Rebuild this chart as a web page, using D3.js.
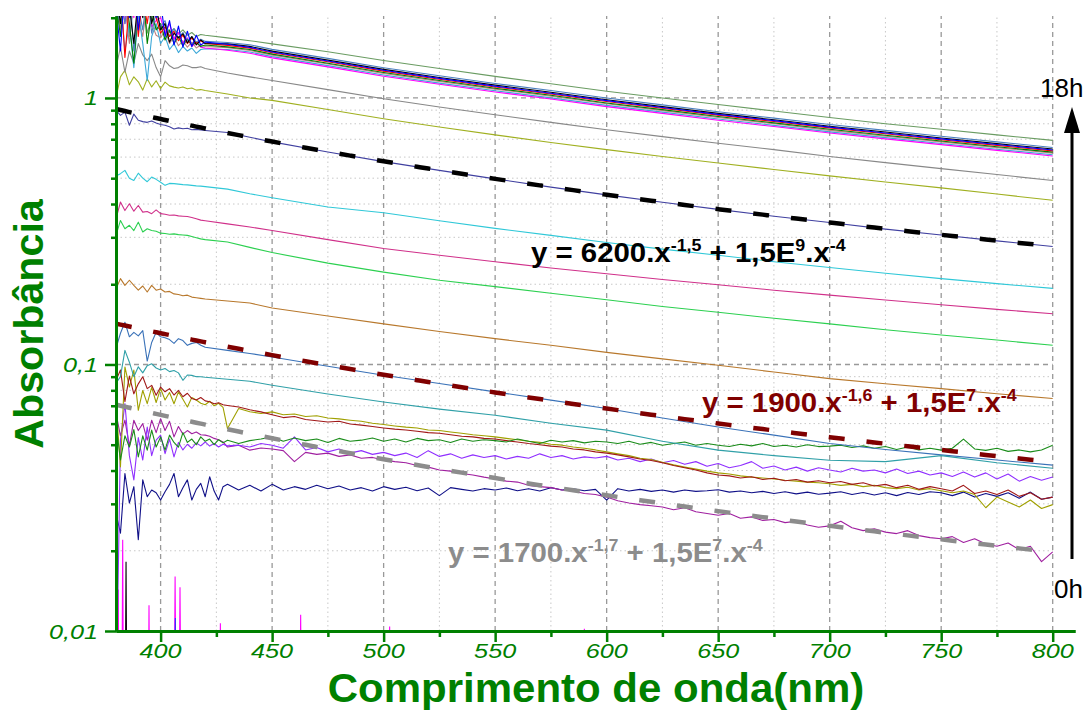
<!DOCTYPE html>
<html>
<head>
<meta charset="utf-8">
<script src="https://cdn.jsdelivr.net/npm/d3@7"></script>
<style>
  body { margin: 0; background: #fff; }
  svg { display: block; }
  text { font-family: "Liberation Sans", Arial, Helvetica, sans-serif; }
</style>
</head>
<body>
<svg id="chart" width="1090" height="727"></svg>
<script>
// ---------- wavelength grids (nm) ----------
const wlS = [380,382,384,386,388,390,392,394,396,398,400,402,404,406,408,410,412,414,416,418,420,
             430,440,450,475,500,525,550,575,600,625,650,675,700,725,750,775,800];
const wlN = [380,382,384,386,388,390,392,394,396,398,400,402,404,406,408,410,412,414,416,418,420,422,424,426,428,430,
             435,440,445,450,455,460,465,470,475,480,485,490,495,500,505,510,515,520,525,530,535,540,545,550,
             555,560,565,570,575,580,585,590,595,600,605,610,615,620,625,630,635,640,645,650,655,660,665,670,
             675,680,685,690,695,700,705,710,715,720,725,730,735,740,745,750,755,760,765,770,775,780,785,790,795,800];

// ---------- absorbance spectra on wlS ----------
const absSage   = [2.2,1.8,2.5,1.7,2.3,1.9,2.4,1.75,2.0,1.85,1.8,1.9,1.76,1.82,1.74,1.8,1.72,1.76,1.7,1.73,1.72,
                   1.68,1.64,1.596,1.49,1.382,1.29,1.205,1.13,1.06,1.0,0.945,0.893,0.845,0.80,0.763,0.727,0.693];
const absSteelA = [1.7,2.4,1.9,2.6,1.5,2.2,1.8,2.5,1.75,2.1,1.85,1.95,1.7,1.82,1.68,1.76,1.64,1.7,1.62,1.66,1.63,
                   1.615,1.584,1.521,1.408,1.299,1.211,1.133,1.066,0.999,0.942,0.888,0.840,0.795,0.756,0.718,0.684,0.652];
const absBlack  = [2.5,1.9,2.8,2.2,1.6,2.4,2.0,2.6,1.9,2.2,1.8,1.9,1.62,1.75,1.68,1.74,1.61,1.7,1.58,1.65,1.6,
                   1.595,1.561,1.499,1.387,1.280,1.193,1.117,1.051,0.984,0.928,0.875,0.828,0.783,0.745,0.708,0.674,0.643];
const absBlue   = [2.2,1.5,2.7,2.0,2.9,1.8,2.5,2.1,2.7,2.0,2.3,1.7,1.95,1.58,1.86,1.55,1.78,1.56,1.72,1.58,1.62,
                   1.59,1.548,1.488,1.376,1.27,1.184,1.108,1.042,0.977,0.921,0.868,0.822,0.777,0.739,0.702,0.669,0.638];
const absRed    = [1.9,2.6,1.42,2.3,2.8,1.7,2.4,1.9,2.5,2.0,1.75,1.85,1.7,1.78,1.64,1.72,1.6,1.68,1.6,1.64,1.6,
                   1.575,1.538,1.477,1.367,1.261,1.176,1.10,1.035,0.97,0.915,0.862,0.816,0.772,0.734,0.697,0.664,0.633];
const absGreenA = [2.3,1.7,2.5,1.9,1.35,2.2,2.6,1.6,2.1,1.8,1.9,1.65,1.8,1.6,1.7,1.57,1.66,1.58,1.62,1.56,1.58,
                   1.555,1.519,1.46,1.35,1.246,1.162,1.087,1.023,0.958,0.904,0.852,0.806,0.763,0.725,0.689,0.656,0.626];
const absRose   = [2.6,1.8,2.2,1.6,2.4,2.0,1.7,2.3,1.9,1.72,1.68,1.8,1.6,1.7,1.57,1.64,1.55,1.62,1.54,1.58,1.56,
                   1.545,1.507,1.448,1.34,1.236,1.152,1.079,1.015,0.951,0.896,0.845,0.80,0.756,0.719,0.684,0.651,0.621];
const absSky    = [1.8,2.4,1.5,1.9,1.3,2.1,1.6,1.16,1.7,1.9,1.6,1.7,1.52,1.6,1.48,1.56,1.5,1.54,1.47,1.52,1.53,
                   1.52,1.487,1.429,1.322,1.22,1.137,1.064,1.001,0.938,0.885,0.834,0.789,0.746,0.71,0.675,0.642,0.612];
const absFuchsia= [2.1,2.7,1.9,2.4,2.0,2.9,2.2,2.5,1.85,1.95,2.0,1.75,1.9,1.66,1.76,1.6,1.68,1.56,1.62,1.55,1.54,
                   1.51,1.472,1.414,1.308,1.207,1.126,1.053,0.991,0.928,0.875,0.825,0.781,0.739,0.702,0.668,0.636,0.606];
const absGrey   = [1.3,1.55,1.25,1.5,1.35,1.6,1.45,1.38,1.46,1.3,1.2,1.38,1.32,1.29,1.3,1.33,1.32,1.3,1.3,1.31,1.29,
                   1.24,1.2,1.163,1.075,0.993,0.925,0.865,0.81,0.76,0.716,0.676,0.64,0.603,0.572,0.543,0.516,0.49];
const absLime   = [1.0,1.2,1.27,1.12,1.2,1.15,1.07,1.18,1.1,1.16,1.085,1.146,1.11,1.098,1.09,1.1,1.082,1.09,1.07,1.075,1.067,
                   1.035,1.0,0.979,0.905,0.836,0.778,0.727,0.681,0.64,0.603,0.57,0.539,0.51,0.484,0.46,0.436,0.413];
const absSlate  = [0.9,0.86,0.885,0.79,0.87,0.825,0.815,0.81,0.82,0.805,0.795,0.79,0.78,0.765,0.772,0.766,0.77,0.76,0.762,0.758,0.755,
                   0.742,0.712,0.684,0.627,0.577,0.535,0.497,0.463,0.433,0.406,0.382,0.360,0.341,0.322,0.306,0.291,0.277];
const absCyan   = [0.51,0.52,0.535,0.5,0.49,0.522,0.5,0.485,0.505,0.495,0.483,0.47,0.478,0.477,0.475,0.473,0.472,0.47,0.468,0.467,0.465,
                   0.455,0.437,0.422,0.39,0.371,0.346,0.324,0.305,0.287,0.271,0.257,0.243,0.231,0.22,0.21,0.201,0.193];
const absPink   = [0.352,0.407,0.378,0.401,0.376,0.395,0.373,0.375,0.368,0.38,0.368,0.366,0.363,0.364,0.361,0.36,0.359,0.356,0.352,0.348,0.346,
                   0.337,0.328,0.318,0.294,0.2725,0.257,0.243,0.230,0.219,0.2085,0.199,0.19,0.182,0.1745,0.1675,0.161,0.155];
const absSpring = [0.305,0.347,0.323,0.333,0.318,0.342,0.314,0.323,0.318,0.316,0.311,0.31,0.308,0.309,0.307,0.306,0.305,0.302,0.299,0.296,0.294,
                   0.288,0.275,0.263,0.24,0.222,0.207,0.196,0.185,0.175,0.165,0.157,0.149,0.142,0.135,0.129,0.1235,0.118];
const absBrown  = [0.192,0.21,0.198,0.207,0.198,0.19,0.197,0.187,0.198,0.19,0.192,0.187,0.188,0.184,0.183,0.181,0.182,0.179,0.178,0.177,0.176,
                   0.173,0.17,0.163,0.152,0.142,0.133,0.125,0.118,0.111,0.105,0.0993,0.0937,0.0885,0.0847,0.0812,0.0777,0.0745];
const absSteelB = [0.115,0.131,0.144,0.127,0.132,0.128,0.134,0.103,0.121,0.132,0.127,0.126,0.124,0.12,0.125,0.123,0.118,0.12,0.121,0.118,0.116,
                   0.113,0.11,0.1067,0.0985,0.0911,0.0848,0.0789,0.0735,0.0684,0.063,0.0583,0.0543,0.0505,0.048,0.0458,0.0438,0.0419];
const absTeal   = [0.085,0.09,0.113,0.102,0.09,0.098,0.093,0.099,0.1006,0.097,0.0953,0.0966,0.094,0.095,0.093,0.0872,0.0913,0.091,0.09,0.0899,0.0895,
                   0.088,0.0865,0.0836,0.0775,0.0723,0.068,0.0645,0.0602,0.0567,0.0515,0.0477,0.0455,0.0437,0.0432,0.0455,0.0428,0.0408];

// ---------- absorbance spectra on wlN ----------
const absForest = [0.06,0.0438,0.054,0.049,0.057,0.045,0.054,0.0477,0.0567,0.049,0.0535,0.0477,0.0543,0.051,0.049,0.0555,0.051,0.0525,0.05,0.0535,0.0515,0.0525,0.05,0.0522,0.0508,0.052,
  0.0505,0.0518,0.0525,0.0535,0.0515,0.053,0.0518,0.0525,0.051,0.0528,0.0515,0.052,0.053,0.0515,0.0525,0.0512,0.0528,0.0518,0.0522,0.051,0.0525,0.0515,0.0522,0.0518,
  0.0512,0.0525,0.0515,0.0505,0.052,0.0512,0.0518,0.0508,0.0515,0.0512,0.0505,0.0515,0.0502,0.051,0.0498,0.0505,0.0512,0.0498,0.0505,0.0498,0.0492,0.0502,0.0495,0.0505,
  0.0492,0.0498,0.049,0.05,0.0492,0.0494,0.0498,0.0488,0.0495,0.0485,0.0492,0.048,0.049,0.0478,0.0485,0.0477,0.0485,0.0525,0.0482,0.0476,0.0485,0.0472,0.0478,0.047,0.0478,0.0498];
const absOlive = [0.0713,0.0413,0.0979,0.0823,0.0953,0.0673,0.0799,0.0713,0.082,0.072,0.0812,0.0736,0.0785,0.0712,0.0789,0.074,0.0693,0.0752,0.0736,0.0715,0.0706,0.0728,0.07,0.0715,0.069,0.0575,
  0.0684,0.0665,0.0655,0.0664,0.0648,0.0652,0.0638,0.0642,0.063,0.0625,0.0618,0.0612,0.0602,0.0595,0.0588,0.0582,0.0578,0.0568,0.0565,0.0558,0.0552,0.0545,0.054,0.0535,
  0.0528,0.0522,0.0515,0.051,0.0502,0.0498,0.049,0.0485,0.0478,0.047,0.0462,0.0455,0.0445,0.044,0.043,0.042,0.0412,0.0405,0.0398,0.0392,0.0388,0.0382,0.0378,0.0375,
  0.0372,0.0368,0.0365,0.0362,0.036,0.0357,0.0352,0.0355,0.0348,0.0352,0.0345,0.0342,0.0346,0.0338,0.0342,0.0336,0.033,0.0335,0.0325,0.029,0.0318,0.0305,0.0292,0.031,0.0288,0.0298];
const absMaroon = [0.0872,0.0953,0.0725,0.0905,0.0776,0.0846,0.0899,0.0812,0.0835,0.0767,0.0823,0.079,0.0812,0.0768,0.0799,0.0757,0.078,0.0745,0.0736,0.0752,0.073,0.0725,0.0712,0.0718,0.0706,0.0702,
  0.0693,0.0676,0.0664,0.0648,0.0632,0.0638,0.0622,0.0615,0.0608,0.0612,0.0598,0.0592,0.0585,0.0578,0.0572,0.0568,0.0562,0.0555,0.0552,0.0545,0.0538,0.0535,0.0528,0.0525,
  0.0518,0.0512,0.0505,0.05,0.0494,0.049,0.0482,0.0478,0.047,0.0465,0.0458,0.045,0.0442,0.0436,0.0428,0.0418,0.041,0.0402,0.0392,0.0385,0.0382,0.0375,0.0379,0.037,
  0.0374,0.0366,0.037,0.0362,0.0366,0.036,0.0364,0.0355,0.036,0.035,0.0355,0.0345,0.0352,0.034,0.0348,0.0342,0.0335,0.0352,0.0328,0.0335,0.0325,0.0338,0.032,0.033,0.0312,0.0318];
const absViolet = [0.005,0.052,0.0713,0.0455,0.0369,0.0532,0.0438,0.0582,0.0455,0.052,0.0543,0.0463,0.0525,0.045,0.051,0.0478,0.0502,0.0485,0.0508,0.0495,0.0512,0.0494,0.0505,0.049,0.0502,0.0495,
  0.0498,0.049,0.0505,0.0498,0.0485,0.0535,0.0478,0.0488,0.047,0.0482,0.0465,0.0475,0.046,0.0468,0.0455,0.0465,0.0448,0.0475,0.0452,0.0462,0.0445,0.0458,0.0448,0.0455,
  0.0442,0.0452,0.0445,0.0462,0.0448,0.0455,0.0442,0.045,0.0446,0.0452,0.0438,0.0445,0.0432,0.0442,0.0428,0.0436,0.0422,0.0432,0.0415,0.0425,0.041,0.0418,0.0432,0.0408,
  0.0416,0.0402,0.0412,0.0398,0.041,0.0402,0.0395,0.0408,0.0398,0.0402,0.0392,0.0405,0.039,0.0398,0.0385,0.0392,0.038,0.0395,0.0378,0.0392,0.0372,0.0388,0.0365,0.038,0.0368,0.0378];
const absPurple = [0.0655,0.054,0.0618,0.0495,0.0618,0.0565,0.06,0.052,0.0618,0.0555,0.0626,0.0565,0.0612,0.0535,0.0585,0.0548,0.0565,0.055,0.0558,0.0545,0.0543,0.0538,0.0528,0.0522,0.0512,0.049,
  0.0498,0.0477,0.0486,0.0482,0.0475,0.0432,0.0468,0.046,0.0465,0.0452,0.0458,0.0445,0.0448,0.0438,0.0432,0.0428,0.0418,0.0412,0.0402,0.0398,0.039,0.0385,0.0378,0.0372,
  0.0365,0.0362,0.0352,0.0348,0.0345,0.0338,0.0335,0.0328,0.0325,0.0318,0.0308,0.0302,0.0298,0.0295,0.0292,0.0285,0.029,0.028,0.0276,0.0272,0.0276,0.0265,0.0268,0.026,
  0.0262,0.0255,0.0258,0.025,0.0245,0.0248,0.0258,0.0244,0.0238,0.0242,0.0235,0.0232,0.0238,0.0228,0.0224,0.0222,0.0226,0.0215,0.0222,0.0212,0.0208,0.0214,0.0202,0.0208,0.0182,0.0198];
const absNavy = [0.0276,0.0233,0.039,0.0302,0.0348,0.022,0.0369,0.0319,0.0338,0.033,0.031,0.0333,0.0355,0.039,0.0319,0.0345,0.0369,0.031,0.034,0.0358,0.0319,0.0379,0.0335,0.031,0.0348,0.0355,
  0.0338,0.0352,0.0335,0.0355,0.0338,0.0348,0.034,0.0352,0.0342,0.035,0.0338,0.0345,0.0335,0.0348,0.034,0.0346,0.0336,0.0344,0.0322,0.0345,0.034,0.0335,0.0342,0.0338,
  0.0344,0.0336,0.0342,0.0335,0.0345,0.0338,0.0342,0.0336,0.034,0.031,0.0342,0.0335,0.034,0.0334,0.0338,0.0332,0.0338,0.0334,0.0336,0.0339,0.0332,0.0335,0.033,0.0334,
  0.0328,0.0333,0.0327,0.0332,0.0326,0.0329,0.0333,0.0325,0.0331,0.0324,0.033,0.0322,0.0331,0.0325,0.0333,0.033,0.0322,0.0332,0.0318,0.0328,0.032,0.033,0.0315,0.0332,0.0312,0.0318];

// ---------- near-zero spectra: only their spikes rise above 0,01 ----------
const zeroMagNm  = [380,380.6,381,381.4,382.6,383,383.4,384.2,384.6,385,394.4,394.8,395.2,406,406.5,407,408.2,408.7,409.2,
                    426.4,426.8,427.2,462.4,462.8,463.2,502.3,502.7,503.1,589.6,590,590.4,800];
const zeroMagAbs = [0.004,0.004,0.0143,0.004,0.004,0.022,0.004,0.004,0.011,0.004,0.004,0.0125,0.004,0.004,0.016,0.004,0.004,0.0146,0.004,
                    0.004,0.0107,0.004,0.004,0.0115,0.004,0.004,0.0104,0.004,0.004,0.0102,0.004,0.004];
const zeroBlkNm  = [384.1,384.5,384.9];
const zeroBlkAbs = [0.004,0.0182,0.004];
const zeroBluNm  = [406.2,406.6,407];
const zeroBluAbs = [0.004,0.0112,0.004];

// ---------- fitted curves: y = a.x^p + c.x^-4 ----------
const fitA = [6200, 1900, 1700];
const fitP = [-1.5, -1.6, -1.7];
const fitC = [1.5e9, 1.5e7, 1.5e7];
const fitColors = ["#000000", "#800000", "#8c8c8c"];

// ---------- ticks ----------
const xMajor = [400,450,500,550,600,650,700,750,800];
const xMinor = [425,475,525,575,625,675,725,775];
const yMajor = [0.01,0.1,1];
const yMinor = [0.02,0.03,0.04,0.05,0.06,0.07,0.08,0.09,0.2,0.3,0.4,0.5,0.6,0.7,0.8,0.9,2];

const seriesS = [
  {v: absLime, c: "#a0b020"}, {v: absGrey, c: "#888888"}, {v: absSage, c: "#6a9c62"},
  {v: absRose, c: "#c08080"}, {v: absSky, c: "#3ca8d8"}, {v: absFuchsia, c: "#ff00ff"},
  {v: absGreenA, c: "#008000"}, {v: absSteelA, c: "#4a7fbf"}, {v: absRed, c: "#ff0000"},
  {v: absBlack, c: "#000000"}, {v: absBlue, c: "#0000ff"},
  {v: absSlate, c: "#4040a0"}, {v: absCyan, c: "#30c8d8"}, {v: absPink, c: "#d0308a"},
  {v: absSpring, c: "#2cd050"}, {v: absBrown, c: "#b8782c"}, {v: absSteelB, c: "#3a72b8"},
  {v: absTeal, c: "#30a0a8"}
];
const seriesN = [
  {v: absNavy, c: "#101088"}, {v: absPurple, c: "#a020a0"}, {v: absViolet, c: "#9030ff"},
  {v: absOlive, c: "#a0a000"}, {v: absMaroon, c: "#a01818"}, {v: absForest, c: "#1a8c1a"}
];

// ---------- scales ----------
const W = 1090, H = 727;
const x = d3.scaleLinear().domain([380, 810]).range([116, 1075]);
const y = d3.scaleLog().domain([0.01, 2.03]).range([631, 16]);
const green = "#008000";

const svg = d3.select("#chart");
svg.append("rect").attr("width", W).attr("height", H).attr("fill", "#fff");

svg.append("defs").append("clipPath").attr("id", "plotClip")
  .append("rect").attr("x", x(380)).attr("y", y(2.03))
  .attr("width", x(810) - x(380)).attr("height", y(0.01) - y(2.03));

// ---------- grid ----------
const grid = svg.append("g");
grid.selectAll(".vmin").data(xMinor).join("line")
  .attr("x1", d => x(d)).attr("x2", d => x(d)).attr("y1", y(0.01)).attr("y2", y(2.03))
  .attr("stroke", "#c8c8c8").attr("stroke-width", 1).attr("stroke-dasharray", "1.5,3");
grid.selectAll(".hmin").data(yMinor.filter(v => v < 2)).join("line")
  .attr("x1", x(380)).attr("x2", x(800)).attr("y1", d => y(d)).attr("y2", d => y(d))
  .attr("stroke", "#c8c8c8").attr("stroke-width", 1).attr("stroke-dasharray", "1.5,3");
grid.selectAll(".vmaj").data(xMajor).join("line")
  .attr("x1", d => x(d)).attr("x2", d => x(d)).attr("y1", y(0.01)).attr("y2", y(2.03))
  .attr("stroke", "#999").attr("stroke-width", 1.3).attr("stroke-dasharray", "5,4");
grid.selectAll(".hmaj").data([0.1, 1]).join("line")
  .attr("x1", x(380)).attr("x2", x(800)).attr("y1", d => y(d)).attr("y2", d => y(d))
  .attr("stroke", "#999").attr("stroke-width", 1.3).attr("stroke-dasharray", "5,4");

// ---------- spectra ----------
const line = d3.line().x(d => x(d[0])).y(d => y(d[1]));
const plot = svg.append("g").attr("clip-path", "url(#plotClip)");
const zip = (nm, v) => nm.slice(0, Math.min(nm.length, v.length)).map((n, i) => [n, v[i]]);

[[zeroMagNm, zeroMagAbs, "#ff00ff"], [zeroBlkNm, zeroBlkAbs, "#000000"], [zeroBluNm, zeroBluAbs, "#3030ff"]]
  .forEach(([nm, v, c]) => plot.append("path").attr("d", line(zip(nm, v)))
    .attr("fill", "none").attr("stroke", c).attr("stroke-width", 1.1));

seriesN.forEach(s => plot.append("path").attr("d", line(zip(wlN, s.v)))
  .attr("fill", "none").attr("stroke", s.c).attr("stroke-width", 1.1).attr("stroke-linejoin", "round"));
seriesS.forEach(s => plot.append("path").attr("d", line(zip(wlS, s.v)))
  .attr("fill", "none").attr("stroke", s.c).attr("stroke-width", 1.1).attr("stroke-linejoin", "round"));

// fitted curves, evaluated from the stated coefficients
fitA.forEach((a, i) => {
  const pts = wlN.map(n => [n, a * Math.pow(n, fitP[i]) + fitC[i] * Math.pow(n, -4)]);
  plot.append("path").attr("d", d3.line().x(d => x(d[0])).y(d => y(d[1])).curve(d3.curveMonotoneX)(pts))
    .attr("fill", "none").attr("stroke", fitColors[i]).attr("stroke-width", 4.5)
    .attr("stroke-dasharray", "16,22");
});

// ---------- axes ----------
function styleAxis(g, w) {
  g.selectAll("path.domain").attr("stroke", green).attr("stroke-width", w);
  g.selectAll(".tick line").attr("stroke", green).attr("stroke-width", 2.5);
  g.selectAll(".tick text").remove();
}
svg.append("g").attr("transform", `translate(${x(380)},0)`)
  .call(d3.axisLeft(y).tickValues(yMinor).tickSize(5).tickSizeOuter(0).tickFormat(""))
  .call(g => styleAxis(g, 3));
svg.append("g").attr("transform", `translate(${x(380)},0)`)
  .call(d3.axisLeft(y).tickValues(yMajor).tickSize(11).tickSizeOuter(0).tickFormat(""))
  .call(g => styleAxis(g, 3));
svg.append("g").attr("transform", `translate(0,${y(0.01)})`)
  .call(d3.axisBottom(x).tickValues(xMinor).tickSize(6).tickSizeOuter(0).tickFormat(""))
  .call(g => styleAxis(g, 3));
svg.append("g").attr("transform", `translate(0,${y(0.01)})`)
  .call(d3.axisBottom(x).tickValues(xMajor).tickSize(11).tickSizeOuter(0).tickFormat(""))
  .call(g => styleAxis(g, 3));

// tick labels
const fmtY = d => String(d).replace(".", ",");
svg.append("g").selectAll("text").data(yMajor).join("text")
  .attr("transform", d => `translate(98,${y(d) + 7.5}) scale(1.2,1)`)
  .attr("text-anchor", "end").attr("font-size", 21).attr("font-style", "italic")
  .attr("fill", green).text(fmtY);
svg.append("g").selectAll("text").data(xMajor).join("text")
  .attr("transform", d => `translate(${x(d)},658) scale(1.2,1)`)
  .attr("text-anchor", "middle").attr("font-size", 21).attr("font-style", "italic")
  .attr("fill", green).text(d => d);

// axis titles
svg.append("text").attr("transform", "translate(596,702) scale(1.05,1)")
  .attr("text-anchor", "middle").attr("font-size", 40).attr("font-weight", "bold")
  .attr("fill", green).text("Comprimento de onda(nm)");
svg.append("text").attr("transform", "translate(43,324) rotate(-90) scale(1.03,1)")
  .attr("text-anchor", "middle").attr("font-size", 40).attr("font-weight", "bold")
  .attr("fill", green).text("Absorbância");

// ---------- fit equations ----------
const fmtNum = v => String(v).replace(".", ",");
function eqParts(i) {
  const e = Math.floor(Math.log10(fitC[i]));
  const m = fitC[i] / Math.pow(10, e);
  return [
    ["y = " + fitA[i] + ".x", false], [fmtNum(fitP[i]), true],
    [" + " + fmtNum(m) + "E", false], [String(e), true],
    [".x", false], ["-4", true]
  ];
}
const eqPos = [[531, 262], [702, 412], [448, 562]];
eqPos.forEach(([ex, ey], i) => {
  const t = svg.append("text").attr("transform", `translate(${ex},${ey}) scale(1.05,1)`)
    .attr("font-size", 28).attr("font-weight", "bold").attr("fill", fitColors[i])
    .style("white-space", "pre");
  let up = false;
  eqParts(i).forEach(([s, sup]) => {
    const ts = t.append("tspan").text(s);
    if (sup) { ts.attr("font-size", 17).attr("dy", up ? 0 : -11); up = true; }
    else { ts.attr("dy", up ? 11 : 0); up = false; }
  });
});

// ---------- time arrow ----------
svg.append("line").attr("x1", 1072).attr("x2", 1072).attr("y1", 559).attr("y2", 128)
  .attr("stroke", "#000").attr("stroke-width", 3);
svg.append("path").attr("d", "M1072,107 L1064,133 L1080,133 Z").attr("fill", "#000");
svg.append("text").attr("x", 1040).attr("y", 97).attr("font-size", 26).attr("fill", "#000").text("18h");
svg.append("text").attr("x", 1054).attr("y", 598).attr("font-size", 26).attr("fill", "#000").text("0h");
</script>
</body>
</html>
